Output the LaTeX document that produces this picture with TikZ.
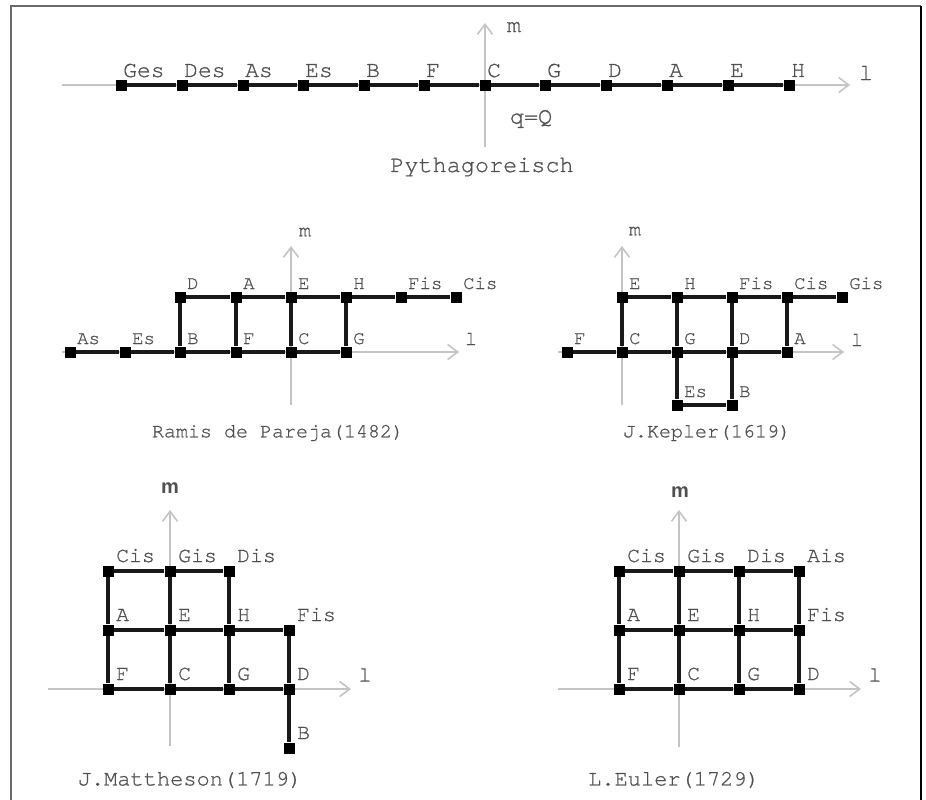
\documentclass[tikz,border=0pt]{standalone}
\usepackage{fontspec}
\usetikzlibrary{arrows.meta}
\newfontfamily\monof{texgyrecursor-regular.otf}[FakeBold=0.8]
\newfontfamily\sansf{Liberation Sans}
\definecolor{txt}{HTML}{505050}
\definecolor{axisc}{HTML}{C4C4C4}
\definecolor{framec}{HTML}{6A6A6A}
\tikzset{
  pnt/.style={rectangle,fill=black,minimum size=11pt,inner sep=0pt},
  edg/.style={line width=3.2pt,draw=black!90},
  axisline/.style={draw=axisc,line width=1.6pt,-{Straight Barb[length=10pt,width=15pt,line width=1.6pt]}},
  ltop/.style={anchor=base west,text=txt,inner sep=0pt,font=\monof\fontsize{23}{23}\selectfont},
  lmid/.style={anchor=base west,text=txt,inner sep=0pt,font=\monof\fontsize{19}{19}\selectfont},
  lbot/.style={anchor=base west,text=txt,inner sep=0pt,font=\monof\fontsize{21.5}{21.5}\selectfont},
  ttop/.style={text=txt,inner sep=0pt,font=\monof\fontsize{23.5}{23.5}\selectfont},
  tmid/.style={text=txt,inner sep=0pt,font=\monof\fontsize{20}{20}\selectfont},
  tbot/.style={text=txt,inner sep=0pt,font=\monof\fontsize{22}{22}\selectfont},
  mbot/.style={text=txt,inner sep=0pt,font=\sansf\bfseries\fontsize{20}{20}\selectfont},
}
\begin{document}
\begin{tikzpicture}[x=1pt,y=-1pt]
\useasboundingbox (0,0) rectangle (926,800);
\fill[white] (0,0) rectangle (926,800);
% frame
\draw[framec,line width=2pt] (11,800) -- (11,6) -- (921,6);
\draw[black,line width=2pt] (921,6) -- (921,800);

%%%%%%%%%%%%%%%% Pythagoreisch %%%%%%%%%%%%%%%%
\coordinate (tAxL) at (62,85);
\coordinate (tAxR) at (850,85);
\coordinate (tAxB) at (485,147);
\coordinate (tAxT) at (485,23);
\draw[axisline] (tAxL) -- (tAxR);
\draw[axisline] (tAxB) -- (tAxT);
\node[ttop] (tm) at (514,27) {m};
\node[ttop] (tl) at (866,73) {l};
\node[ttop] (tq) at (531,119) {q=Q};
\node[ttop] (tname) at (482,167) {Pythagoreisch};
\foreach \n/\x/\t in {1/121/Ges,2/182/Des,3/243/As,4/303/Es,5/364/B,6/424/F,7/485/C,8/545/G,9/606/D,10/667/A,11/728/E,12/789/H}{
  \node[pnt] (t\n) at (\x,85) {};
  \node[ltop] (tl\n) at ([xshift=2pt,yshift=8pt]t\n.center) {\t};
}
\draw[edg] (t1) -- (t2) -- (t3) -- (t4) -- (t5) -- (t6) -- (t7) -- (t8) -- (t9) -- (t10) -- (t11) -- (t12);
\foreach \n in {1,...,12}{\node[pnt] at (t\n) {};}

%%%%%%%%%%%%%%%% Ramis de Pareja %%%%%%%%%%%%%%%%
\coordinate (rAxL) at (62,352);
\coordinate (rAxR) at (459,352);
\coordinate (rAxB) at (291,405);
\coordinate (rAxT) at (291,246);
\draw[axisline] (rAxL) -- (rAxR);
\draw[axisline] (rAxB) -- (rAxT);
\node[tmid] (rm) at (305,232) {m};
\node[tmid] (rl) at (471,339) {l};
\node[tmid] (rname) at (278,433) {Ramis de Pareja(1482)};
\foreach \n/\x/\y/\t in {As/70/352/As,Es/125/352/Es,B/180/352/B,F/236/352/F,C/291/352/C,G/346/352/G,
  D/180/297/D,A/236/297/A,E/291/297/E,H/346/297/H,Fis/401/297/Fis,Cis/456/297/Cis}{
  \node[pnt] (r\n) at (\x,\y) {};
  \node[lmid] (rl\n) at ([xshift=7pt,yshift=8pt]r\n.center) {\t};
}
\draw[edg] (rAs) -- (rEs) -- (rB) -- (rF) -- (rC) -- (rG);
\draw[edg] (rD) -- (rA) -- (rE) -- (rH) -- (rFis) -- (rCis);
\draw[edg] (rB) -- (rD) (rF) -- (rA) (rC) -- (rE) (rG) -- (rH);
\foreach \n in {As,Es,B,F,C,G,D,A,E,H,Fis,Cis}{\node[pnt] at (r\n) {};}

%%%%%%%%%%%%%%%% Kepler %%%%%%%%%%%%%%%%
\coordinate (kAxL) at (558,352);
\coordinate (kAxR) at (844,352);
\coordinate (kAxB) at (622,405);
\coordinate (kAxT) at (622,246);
\draw[axisline] (kAxL) -- (kAxR);
\draw[axisline] (kAxB) -- (kAxT);
\node[tmid] (km) at (635,231) {m};
\node[tmid] (kl) at (857,340) {l};
\node[tmid] (kname) at (707,433) {J.Kepler(1619)};
\foreach \n/\x/\y/\t in {F/567/352/F,C/622/352/C,G/677/352/G,D/732/352/D,A/787/352/A,
  E/622/297/E,H/677/297/H,Fis/732/297/Fis,Cis/787/297/Cis,Gis/842/297/Gis,
  Es/677/405/Es,B/732/405/B}{
  \node[pnt] (k\n) at (\x,\y) {};
  \node[lmid] (kl\n) at ([xshift=7pt,yshift=8pt]k\n.center) {\t};
}
\draw[edg] (kF) -- (kC) -- (kG) -- (kD) -- (kA);
\draw[edg] (kE) -- (kH) -- (kFis) -- (kCis) -- (kGis);
\draw[edg] (kC) -- (kE) (kG) -- (kH) (kD) -- (kFis) (kA) -- (kCis);
\draw[edg] (kG) -- (kEs) -- (kB) -- (kD);
\foreach \n in {F,C,G,D,A,E,H,Fis,Cis,Gis,Es,B}{\node[pnt] at (k\n) {};}

%%%%%%%%%%%%%%%% Mattheson %%%%%%%%%%%%%%%%
\coordinate (mAxL) at (48,689);
\coordinate (mAxR) at (351,689);
\coordinate (mAxB) at (170,746);
\coordinate (mAxT) at (170,510);
\draw[axisline] (mAxL) -- (mAxR);
\draw[axisline] (mAxB) -- (mAxT);
\node[mbot] (mm) at (170,488) {m};
\node[tbot] (ml) at (365,675) {l};
\node[tbot] (mname) at (190,780) {J.Mattheson(1719)};
\foreach \n/\x/\y/\t in {Cis/108/571/Cis,Gis/170/571/Gis,Dis/229/571/Dis,
  A/108/630/A,E/170/630/E,H/229/630/H,Fis/289/630/Fis,
  F/108/689/F,C/170/689/C,G/229/689/G,D/289/689/D,B/289/748/B}{
  \node[pnt] (m\n) at (\x,\y) {};
  \node[lbot] (ml\n) at ([xshift=8pt,yshift=9pt]m\n.center) {\t};
}
\draw[edg] (mCis) -- (mGis) -- (mDis);
\draw[edg] (mA) -- (mE) -- (mH) -- (mFis);
\draw[edg] (mF) -- (mC) -- (mG) -- (mD);
\draw[edg] (mF) -- (mA) -- (mCis) (mC) -- (mE) -- (mGis) (mG) -- (mH) -- (mDis) (mFis) -- (mD) -- (mB);
\foreach \n in {Cis,Gis,Dis,A,E,H,Fis,F,C,G,D,B}{\node[pnt] at (m\n) {};}

%%%%%%%%%%%%%%%% Euler %%%%%%%%%%%%%%%%
\coordinate (eAxL) at (558,689);
\coordinate (eAxR) at (861,689);
\coordinate (eAxB) at (679,747);
\coordinate (eAxT) at (679,510);
\draw[axisline] (eAxL) -- (eAxR);
\draw[axisline] (eAxB) -- (eAxT);
\node[mbot] (em) at (680,492) {m};
\node[tbot] (el) at (875,675) {l};
\node[tbot] (ename) at (674,780) {L.Euler(1729)};
\foreach \n/\x/\y/\t in {Cis/619/571/Cis,Gis/679/571/Gis,Dis/739/571/Dis,Ais/799/571/Ais,
  A/619/630/A,E/679/630/E,H/739/630/H,Fis/799/630/Fis,
  F/619/689/F,C/679/689/C,G/739/689/G,D/799/689/D}{
  \node[pnt] (e\n) at (\x,\y) {};
  \node[lbot] (el\n) at ([xshift=8pt,yshift=9pt]e\n.center) {\t};
}
\draw[edg] (eCis) -- (eGis) -- (eDis) -- (eAis);
\draw[edg] (eA) -- (eE) -- (eH) -- (eFis);
\draw[edg] (eF) -- (eC) -- (eG) -- (eD);
\draw[edg] (eF) -- (eA) -- (eCis) (eC) -- (eE) -- (eGis) (eG) -- (eH) -- (eDis) (eD) -- (eFis) -- (eAis);
\foreach \n in {Cis,Gis,Dis,Ais,A,E,H,Fis,F,C,G,D}{\node[pnt] at (e\n) {};}
\end{tikzpicture}
\end{document}
